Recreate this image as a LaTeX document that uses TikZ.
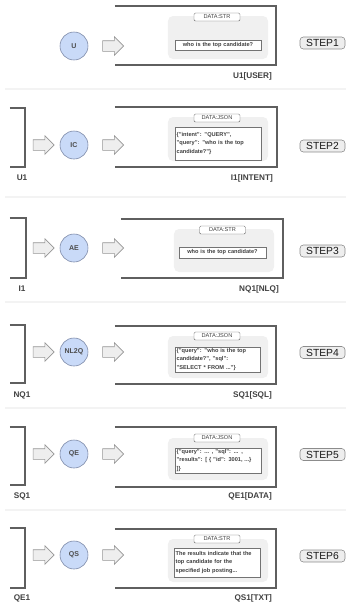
\documentclass[tikz,border=0pt]{standalone}
\usepackage{fontspec}
\setmainfont{Liberation Sans}
\usepackage{tikz}
\usetikzlibrary{shapes.arrows}

\definecolor{agentfill}{RGB}{201,218,248}
\definecolor{agentline}{RGB}{125,138,168}
\definecolor{frameline}{RGB}{95,95,95}
\definecolor{panelfill}{RGB}{240,240,240}
\definecolor{flowfill}{RGB}{238,238,238}
\definecolor{flowline}{RGB}{150,150,150}
\definecolor{rulefill}{RGB}{243,243,243}

\tikzset{
	agent/.style={circle, draw=agentline, fill=agentfill, line width=0.5pt, minimum size=0.84cm, inner sep=0pt, font=\fontsize{6}{7}\selectfont\bfseries, text=black!70},
	flow/.style={single arrow, draw=flowline, fill=flowfill, line width=0.5pt, inner xsep=0pt, inner ysep=0.15cm, single arrow head extend=0.12cm, minimum height=0.63cm},
	frame/.style={inner sep=0pt, outer sep=0pt},
	bracket/.style={draw=frameline, line width=1.4pt},
	panel/.style={fill=panelfill, rounded corners=0.15cm, minimum width=3cm, inner sep=0pt},
	tag/.style={draw=black!60, fill=white, rounded corners=0.04cm, line width=0.4pt, minimum width=1.38cm, minimum height=0.24cm, inner sep=0pt, font=\fontsize{4.8}{5}\selectfont, text=black!75},
	payload/.style={draw=black!55, fill=white, line width=0.5pt, align=left, inner xsep=0.05cm, inner ysep=0pt, text width=2.48cm, font=\fontsize{4.8}{7}\selectfont\bfseries, text=black!75},
	stepbtn/.style={draw=black!45, fill=flowfill, rounded corners=0.1cm, line width=0.5pt, minimum width=1.35cm, minimum height=0.36cm, inner sep=0pt, font=\fontsize{8.8}{9}\selectfont, text=black!90},
	outlabel/.style={font=\fontsize{7}{8}\selectfont\bfseries, text=black!75},
	divider/.style={draw=rulefill, line width=2pt}
}

\begin{document}
\begin{tikzpicture}[x=0.03cm, y=-0.03cm]
	\useasboundingbox (0,0) rectangle (346,605);
	% step 1
	\node[agent] (u) at (74,46) {U};
	\node[flow] (uout) at (110.5,46) {};
	\node[frame, minimum width=4.83cm, minimum height=1.77cm] (u1) at (195.5,35.5) {};
	\draw[bracket] (u1.north west) -- (u1.north east) -- (u1.south east) -- (u1.south west);
	\node[panel, minimum height=1.29cm] (u1p) at (218,37.5) {};
	\node[tag] (u1t) at (217,17) {DATA:STR};
	\node[payload, align=center, minimum height=0.3cm] (u1d) at (218,45) {who is the top candidate?};
	\node[stepbtn] (s1) at (322.5,43) {STEP1};
	\node[outlabel, anchor=east] (u1l) at (276,76) {U1[USER]};
	\draw[divider] (5,89) -- (346,89);
	% step 2
	\node[frame, minimum width=0.45cm, minimum height=1.77cm] (u1b) at (17.5,137.5) {};
	\draw[bracket] (u1b.north west) -- (u1b.north east) -- (u1b.south east) -- (u1b.south west);
	\node[outlabel] (u1bl) at (22,178) {U1};
	\node[flow] (icin) at (41,145) {};
	\node[agent] (ic) at (74,145) {IC};
	\node[flow] (icout) at (110.5,145) {};
	\node[frame, minimum width=4.86cm, minimum height=1.8cm] (i1) at (196,137) {};
	\draw[bracket] (i1.north west) -- (i1.north east) -- (i1.south east) -- (i1.south west);
	\node[panel, minimum height=1.32cm] (i1p) at (218,139) {};
	\node[tag] (i1t) at (217,118) {DATA:JSON};
	\node[payload, minimum height=1cm] (i1d) at (218,143.5) {\{"intent": "QUERY",\\"query": "who is the top\\candidate?"\}};
	\node[stepbtn] (s2) at (322.5,146) {STEP2};
	\node[outlabel, anchor=east] (i1l) at (277,178) {I1[INTENT]};
	\draw[divider] (5,197) -- (346,197);
	% step 3
	\node[frame, minimum width=0.48cm, minimum height=1.8cm] (i1b) at (18,248) {};
	\draw[bracket] (i1b.north west) -- (i1b.north east) -- (i1b.south east) -- (i1b.south west);
	\node[outlabel] (i1bl) at (22,289) {I1};
	\node[flow] (aein) at (41,248) {};
	\node[agent] (ae) at (74,248) {AE};
	\node[flow] (aeout) at (110.5,248) {};
	\node[frame, minimum width=4.86cm, minimum height=1.77cm] (nq1) at (202,248.5) {};
	\draw[bracket] (nq1.north west) -- (nq1.north east) -- (nq1.south east) -- (nq1.south west);
	\node[panel, minimum height=1.29cm] (nq1p) at (224,250.5) {};
	\node[tag] (nq1t) at (222.5,230) {DATA:STR};
	\node[payload, align=center, text width=2.51cm, minimum height=0.33cm] (nq1d) at (222.5,252.5) {who is the top candidate?};
	\node[stepbtn] (s3) at (322.5,251) {STEP3};
	\node[outlabel, anchor=east] (nq1l) at (283,289) {NQ1[NLQ]};
	\draw[divider] (5,302) -- (346,302);
	% step 4
	\node[frame, minimum width=0.45cm, minimum height=1.74cm] (nq1b) at (17.5,354) {};
	\draw[bracket] (nq1b.north west) -- (nq1b.north east) -- (nq1b.south east) -- (nq1b.south west);
	\node[outlabel] (nq1bl) at (22,395) {NQ1};
	\node[flow] (nl2qin) at (41,352) {};
	\node[agent] (nl2q) at (74,352) {NL2Q};
	\node[flow] (nl2qout) at (110.5,352) {};
	\node[frame, minimum width=4.83cm, minimum height=1.74cm] (sq1) at (195.5,355) {};
	\draw[bracket] (sq1.north west) -- (sq1.north east) -- (sq1.south east) -- (sq1.south west);
	\node[panel, minimum height=1.26cm] (sq1p) at (218,357) {};
	\node[tag] (sq1t) at (217,336) {DATA:JSON};
	\node[payload, text width=2.45cm, minimum height=0.75cm] (sq1d) at (217.5,359.5) {\{"query": "who is the top\\candidate?", "sql":\\"SELECT * FROM ..."\}};
	\node[stepbtn] (s4) at (322.5,352.5) {STEP4};
	\node[outlabel, anchor=east] (sq1l) at (276,395) {SQ1[SQL]};
	\draw[divider] (5,408) -- (346,408);
	% step 5
	\node[frame, minimum width=0.45cm, minimum height=1.74cm] (sq1b) at (17.5,456) {};
	\draw[bracket] (sq1b.north west) -- (sq1b.north east) -- (sq1b.south east) -- (sq1b.south west);
	\node[outlabel] (sq1bl) at (22,496) {SQ1};
	\node[flow] (qein) at (41,454) {};
	\node[agent] (qe) at (74,454) {QE};
	\node[flow] (qeout) at (110.5,454) {};
	\node[frame, minimum width=4.83cm, minimum height=1.8cm] (qe1) at (195.5,457) {};
	\draw[bracket] (qe1.north west) -- (qe1.north east) -- (qe1.south east) -- (qe1.south west);
	\node[panel, minimum height=1.26cm] (qe1p) at (218,459) {};
	\node[tag] (qe1t) at (217,438) {DATA:JSON};
	\node[payload, minimum height=0.75cm] (qe1d) at (218,460.5) {\{"query": ... , "sql": ... ,\\"results": [ \{ "id": 3001, ...\}\\]\}};
	\node[stepbtn] (s5) at (322.5,454.5) {STEP5};
	\node[outlabel, anchor=east] (qe1l) at (276,496) {QE1[DATA]};
	\draw[divider] (5,510) -- (346,510);
	% step 6
	\node[frame, minimum width=0.45cm, minimum height=1.8cm] (qe1b) at (17.5,558) {};
	\draw[bracket] (qe1b.north west) -- (qe1b.north east) -- (qe1b.south east) -- (qe1b.south west);
	\node[outlabel] (qe1bl) at (22,598) {QE1};
	\node[flow] (qsin) at (41,555) {};
	\node[agent] (qs) at (74,555) {QS};
	\node[flow] (qsout) at (110.5,555) {};
	\node[frame, minimum width=4.83cm, minimum height=1.77cm] (qs1) at (195.5,558.5) {};
	\draw[bracket] (qs1.north west) -- (qs1.north east) -- (qs1.south east) -- (qs1.south west);
	\node[panel, minimum height=1.29cm] (qs1p) at (218,560.5) {};
	\node[tag] (qs1t) at (217,539) {DATA:STR};
	\node[payload, minimum height=0.87cm] (qs1d) at (217,562.5) {The results indicate that the\\top candidate for the\\specified job posting...};
	\node[stepbtn] (s6) at (322.5,556) {STEP6};
	\node[outlabel, anchor=east] (qs1l) at (276,598) {QS1[TXT]};
\end{tikzpicture}
\end{document}
